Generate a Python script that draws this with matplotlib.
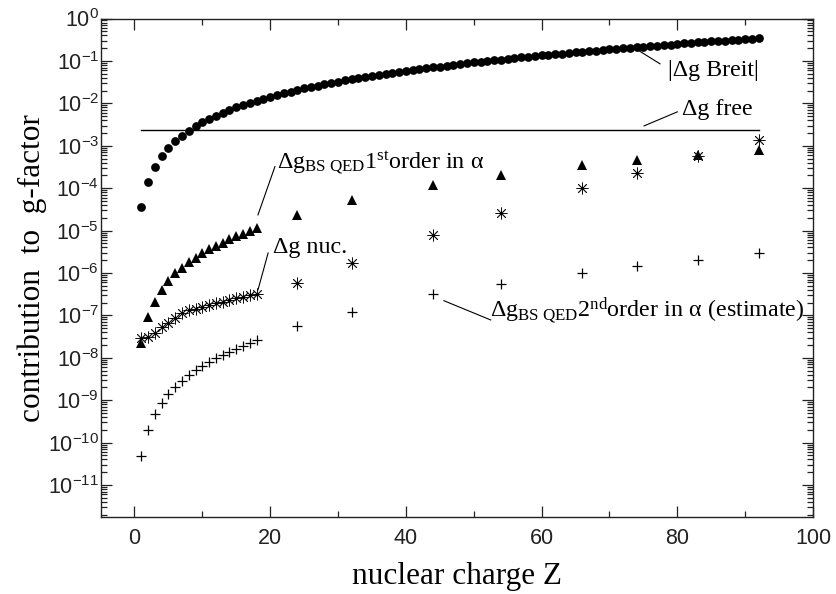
import numpy as np
import matplotlib
matplotlib.use("Agg")
import matplotlib.pyplot as plt
from matplotlib.ticker import LogLocator, FuncFormatter, MultipleLocator

# nuclear charge for the Breit curve and for the ions with QED / nuclear terms
z_breit = np.arange(1, 93)
z_ions = [1, 2, 3, 4, 5, 6, 7, 8, 9, 10, 11, 12, 13, 14, 15, 16, 17, 18,
          24, 32, 44, 54, 66, 74, 83, 92]

breit = [3.55e-5, 1.42e-4, 3.20e-4, 5.68e-4, 8.88e-4, 1.28e-3, 1.74e-3, 2.27e-3,
         2.88e-3, 3.56e-3, 4.30e-3, 5.12e-3, 6.01e-3, 6.98e-3, 8.01e-3, 9.12e-3,
         1.03e-2, 1.155e-2, 1.29e-2, 1.43e-2, 1.57e-2, 1.73e-2, 1.89e-2, 2.06e-2,
         2.24e-2, 2.42e-2, 2.61e-2, 2.81e-2, 3.02e-2, 3.23e-2, 3.46e-2, 3.69e-2,
         3.92e-2, 4.17e-2, 4.42e-2, 4.68e-2, 4.95e-2, 5.23e-2, 5.51e-2, 5.81e-2,
         6.11e-2, 6.42e-2, 6.73e-2, 7.06e-2, 7.39e-2, 7.74e-2, 8.09e-2, 8.45e-2,
         8.82e-2, 9.19e-2, 9.58e-2, 9.97e-2, 0.1038, 0.1079, 0.1121, 0.1164,
         0.1208, 0.1253, 0.1299, 0.1346, 0.1394, 0.1443, 0.1493, 0.1543,
         0.1595, 0.1648, 0.1702, 0.1757, 0.1814, 0.1871, 0.1929, 0.1989,
         0.2049, 0.2111, 0.2174, 0.2238, 0.2304, 0.2371, 0.2439, 0.2508,
         0.2579, 0.2651, 0.2724, 0.2799, 0.2875, 0.2953, 0.3032, 0.3112,
         0.3195, 0.3279, 0.3364, 0.3452]

qed1 = [2.2e-8, 9.0e-8, 2.1e-7, 3.9e-7, 6.5e-7, 9.9e-7, 1.34e-6, 1.79e-6, 2.3e-6,
        2.92e-6, 3.69e-6, 4.4e-6, 5.2e-6, 6.2e-6, 7.3e-6, 8.5e-6, 9.6e-6, 1.17e-5,
        2.32e-5, 5.3e-5, 1.19e-4, 2.05e-4, 3.54e-4, 4.64e-4, 6.1e-4, 8.0e-4]

nuc = [2.88e-8, 3.15e-8, 3.92e-8, 5.25e-8, 6.5e-8, 8.5e-8, 1.12e-7, 1.34e-7, 1.44e-7,
       1.61e-7, 1.76e-7, 2.0e-7, 2.11e-7, 2.31e-7, 2.53e-7, 2.77e-7, 3.03e-7, 3.2e-7,
       5.7e-7, 1.75e-6, 7.9e-6, 2.56e-5, 1.0e-4, 2.25e-4, 5.6e-4, 1.38e-3]

qed2 = [4.8e-11, 1.98e-10, 4.65e-10, 8.45e-10, 1.4e-9, 2.01e-9, 2.84e-9, 3.86e-9,
        5.07e-9, 6.4e-9, 7.96e-9, 9.7e-9, 1.16e-8, 1.37e-8, 1.64e-8, 1.9e-8, 2.2e-8,
        2.63e-8, 5.6e-8, 1.23e-7, 3.2e-7, 5.5e-7, 9.9e-7, 1.47e-6, 2.03e-6, 2.92e-6]

free_z = [1, 92]
free_g = [2.32e-3, 2.32e-3]

plt.rcParams['mathtext.fontset'] = 'custom'
plt.rcParams['mathtext.rm'] = 'Liberation Serif'
plt.rcParams['mathtext.it'] = 'Liberation Serif'
plt.rcParams['mathtext.sf'] = 'Liberation Sans'
plt.rcParams['font.family'] = ['Liberation Serif', 'DejaVu Serif']

fig = plt.figure(figsize=(8.37, 5.94), dpi=100)
ax = fig.add_axes([0.1201, 0.1296, 0.8513, 0.8392])

ax.plot(z_breit, breit, 'o', color='black', ms=6.3, mew=0)
ax.plot(free_z, free_g, '-', color='black', lw=1)
ax.plot(z_ions, qed1, '^', color='black', ms=6.8, mew=0)
# asterisks with a small dot in the middle
ax.plot(z_ions, nuc, ls='none', marker=(8, 2, 0), color='#111111', ms=8.5, mew=0.6)
ax.plot(z_ions, nuc, ls='none', marker='o', color='black', ms=2.2, mew=0)
ax.plot(z_ions, qed2, '+', color='black', ms=7.5, mew=0.9)

ax.set_yscale('log')
ax.set_xlim(-5, 100)
ax.set_ylim(1.76e-12, 1.0)

ax.xaxis.set_major_locator(MultipleLocator(20))
ax.xaxis.set_minor_locator(MultipleLocator(10))
ax.yaxis.set_major_locator(LogLocator(base=10, numticks=30))
ax.yaxis.set_minor_locator(LogLocator(base=10, subs=np.arange(2, 10), numticks=30))
ax.yaxis.set_major_formatter(FuncFormatter(lambda v, p: r'$\mathsf{10^{%d}}$' % round(np.log10(v))))
ax.xaxis.set_major_formatter(FuncFormatter(lambda v, p: '%d' % v))

ax.tick_params(which='both', direction='in', top=True, right=True, color='#222222', width=0.9)
ax.tick_params(which='major', length=8)
ax.tick_params(which='minor', length=4)
ax.tick_params(axis='x', pad=8, labelsize=15.5, labelcolor='#222222')
ax.tick_params(axis='y', pad=1, labelsize=15.5, labelcolor='#222222')
for lab in ax.get_xticklabels():
    lab.set_family('Liberation Sans')
for s in ax.spines.values():
    s.set_linewidth(1.0)
    s.set_color('#222222')

ax.set_xlabel('nuclear charge Z', fontsize=22.5)
ax.set_ylabel('contribution  to  g-factor', fontsize=22.5)
ax.xaxis.set_label_coords(0.5, -0.09)
ax.yaxis.set_label_coords(-0.075, 0.5)

fs = 17.3
ax.text(78.6, 0.0445, '|Δg Breit|', fontsize=fs)
ax.plot([77.45, 73.9], [0.0854, 0.193], '-', color='black', lw=0.8)
ax.text(80.7, 5.35e-3, 'Δg free', fontsize=fs)
ax.plot([80.0, 75.1], [6.3e-3, 2.94e-3], '-', color='black', lw=0.8)
ax.text(21.0, 2.84e-4, r'$\Delta g_{BS\ QED}1^{st}order\ in\ \alpha$', fontsize=fs)
ax.plot([20.7, 18.2], [3.23e-4, 2.34e-5], '-', color='black', lw=0.8)
ax.text(20.4, 2.97e-6, 'Δg nuc.', fontsize=fs)
ax.plot([19.7, 18.2], [2.97e-6, 3.98e-7], '-', color='black', lw=0.8)
ax.text(52.4, 9.3e-8, r'$\Delta g_{BS\ QED}2^{nd}order\ in\ \alpha\ (estimate)$', fontsize=fs)
ax.plot([45.6, 52.5], [2.22e-7, 7.8e-8], '-', color='black', lw=0.8)

fig.savefig('out.png', dpi=100)
